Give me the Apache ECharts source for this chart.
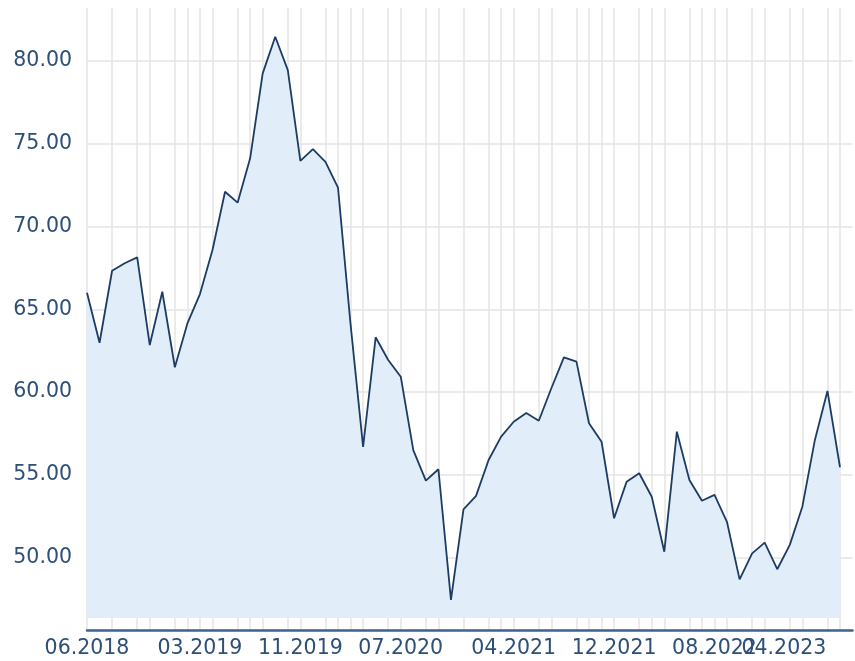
<!DOCTYPE html>
<html>
<head>
<meta charset="utf-8">
<script src="https://cdn.jsdelivr.net/npm/echarts@6/dist/echarts.min.js"></script>
<style>
  html, body { margin: 0; padding: 0; background: #ffffff; }
  #chart { width: 855px; height: 661px; }
</style>
</head>
<body>
<div id="chart"></div>
<script>
// Monthly categories (06.2018 .. 06.2023), plus one empty padding slot
var categories = [
  '06.2018','07.2018','08.2018','09.2018','10.2018','11.2018','12.2018',
  '01.2019','02.2019','03.2019','04.2019','05.2019','06.2019','07.2019','08.2019','09.2019','10.2019','11.2019','12.2019',
  '01.2020','02.2020','03.2020','04.2020','05.2020','06.2020','07.2020','08.2020','09.2020','10.2020','11.2020','12.2020',
  '01.2021','02.2021','03.2021','04.2021','05.2021','06.2021','07.2021','08.2021','09.2021','10.2021','11.2021','12.2021',
  '01.2022','02.2022','03.2022','04.2022','05.2022','06.2022','07.2022','08.2022','09.2022','10.2022','11.2022','12.2022',
  '01.2023','02.2023','03.2023','04.2023','05.2023','06.2023',
  ''
];

// Series values (one per month; last category is empty padding)
var values = [
  66.0, 62.98, 67.33, 67.78, 68.14, 62.84, 66.06,
  61.5, 64.15, 65.92, 68.58, 72.1, 71.44, 74.12, 79.25, 81.46, 79.45, 73.97, 74.68,
  73.91, 72.35, 64.1, 56.69, 63.31, 61.94, 60.93, 56.5, 54.65, 55.34, 47.45, 52.92,
  53.73, 55.9, 57.31, 58.21, 58.74, 58.27, 60.23, 62.1, 61.84, 58.12, 57.0, 52.38,
  54.59, 55.1, 53.68, 50.36, 57.61, 54.69, 53.44, 53.79, 52.14, 48.69, 50.26, 50.91,
  49.3, 50.77, 53.08, 57.11, 60.07, 55.46,
  null
];

// X tick labels (the last one is pulled inwards, as in the original)
var xTickLabels = ['06.2018','03.2019','11.2019','07.2020','04.2021','12.2021','08.2022'];
var xLastTickLabel = '04.2023';
// Category slots that carry a vertical grid line
var xGridIndex = [0,2,4,5,7,8,9,10,12,13,14,16,17,19,20,21,22,24,25,27,28,30,32,33,34,36,37,39,40,41,42,44,45,46,48,49,50,51,53,54,56,57,59,60];

var labelColor = '#2e4f78';
var labelFont = 'DejaVu Sans';
var labelSize = 20.5;

var chart = echarts.init(document.getElementById('chart'), null, { renderer: 'canvas' });
chart.setOption({
  animation: false,
  backgroundColor: '#ffffff',
  grid: { left: 87, right: 2.45, top: 8, bottom: 31, containLabel: false },
  xAxis: [{
    type: 'category',
    position: 'bottom',
    data: categories,
    boundaryGap: false,
    axisLine: { show: true, lineStyle: { color: '#3d6290', width: 2.5 } },
    axisTick: { show: false },
    axisLabel: {
      show: true,
      interval: function (idx, val) { return xTickLabels.indexOf(val) >= 0; },
      hideOverlap: false,
      margin: 8,
      color: labelColor,
      fontFamily: labelFont,
      fontSize: labelSize
    },
    splitLine: {
      show: true,
      interval: function (idx) { return xGridIndex.indexOf(idx) >= 0; },
      lineStyle: { color: '#e4e4e4', width: 1.5 }
    }
  }, {
    type: 'category',
    position: 'bottom',
    data: categories,
    boundaryGap: false,
    axisLine: { show: false },
    axisTick: { show: false },
    splitLine: { show: false },
    axisLabel: {
      show: true,
      interval: function (idx, val) { return val === xLastTickLabel; },
      hideOverlap: false,
      margin: 8,
      color: labelColor,
      fontFamily: labelFont,
      fontSize: labelSize,
      formatter: function (val) { return '{shift|' + val + '}'; },
      rich: {
        shift: { padding: [0, 62, 0, 0], color: labelColor, fontFamily: labelFont, fontSize: labelSize }
      }
    }
  }],
  yAxis: {
    type: 'value',
    min: 45.63,
    max: 83.2,
    splitNumber: 7,
    axisLine: { show: false },
    axisTick: { show: false },
    axisLabel: {
      show: true,
      showMinLabel: false,
      showMaxLabel: false,
      margin: 15,
      color: labelColor,
      fontFamily: labelFont,
      fontSize: labelSize,
      formatter: function (v) { return v.toFixed(2); }
    },
    splitLine: {
      show: true,
      showMinLine: false,
      showMaxLine: false,
      lineStyle: { color: '#e4e4e4', width: 1.5 }
    }
  },
  series: [{
    type: 'line',
    xAxisIndex: 0,
    data: values,
    symbol: 'none',
    connectNulls: false,
    lineStyle: { color: '#1c3c64', width: 1.8 },
    areaStyle: { color: '#e1edf8', opacity: 1, origin: 46.36 },
    z: 3
  }]
});
</script>
</body>
</html>
